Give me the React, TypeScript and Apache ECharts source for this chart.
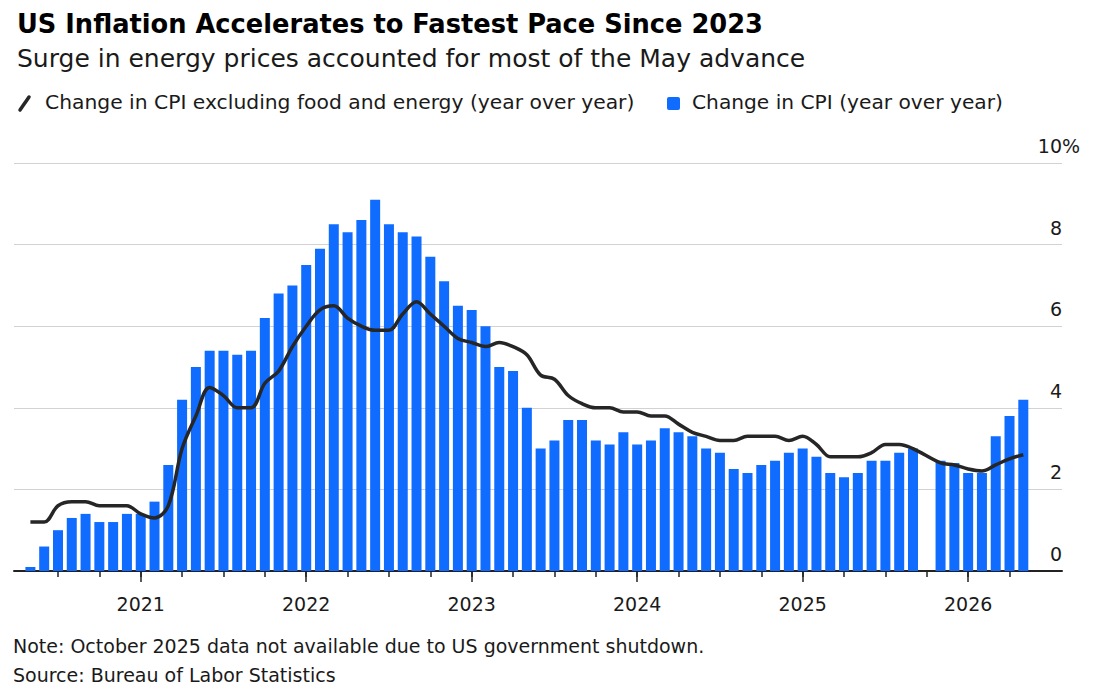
import React, { useEffect, useRef } from "react";
import * as echarts from "echarts";

// Monthly CPI readings, May 2020 – May 2026 (October 2025 missing)
const startYear = 2020;
const startMonth = 5;
const monthCount = 73;

const cpiYoY: (number | null)[] = [
  // 2020 May–Dec
  0.1, 0.6, 1.0, 1.3, 1.4, 1.2, 1.2, 1.4,
  // 2021
  1.4, 1.7, 2.6, 4.2, 5.0, 5.4, 5.4, 5.3, 5.4, 6.2, 6.8, 7.0,
  // 2022
  7.5, 7.9, 8.5, 8.3, 8.6, 9.1, 8.5, 8.3, 8.2, 7.7, 7.1, 6.5,
  // 2023
  6.4, 6.0, 5.0, 4.9, 4.0, 3.0, 3.2, 3.7, 3.7, 3.2, 3.1, 3.4,
  // 2024
  3.1, 3.2, 3.5, 3.4, 3.3, 3.0, 2.9, 2.5, 2.4, 2.6, 2.7, 2.9,
  // 2025
  3.0, 2.8, 2.4, 2.3, 2.4, 2.7, 2.7, 2.9, 3.0, null, 2.7, 2.65,
  // 2026 Jan–May
  2.4, 2.4, 3.3, 3.8, 4.2,
];

const coreYoY: (number | null)[] = [
  // 2020 May–Dec
  1.2, 1.2, 1.6, 1.7, 1.7, 1.6, 1.6, 1.6,
  // 2021
  1.4, 1.3, 1.6, 3.0, 3.8, 4.5, 4.3, 4.0, 4.0, 4.6, 4.9, 5.5,
  // 2022
  6.0, 6.4, 6.5, 6.2, 6.0, 5.9, 5.9, 6.3, 6.6, 6.3, 6.0, 5.7,
  // 2023
  5.6, 5.5, 5.6, 5.5, 5.3, 4.8, 4.7, 4.3, 4.1, 4.0, 4.0, 3.9,
  // 2024
  3.9, 3.8, 3.8, 3.6, 3.4, 3.3, 3.2, 3.2, 3.3, 3.3, 3.3, 3.2,
  // 2025
  3.3, 3.1, 2.8, 2.8, 2.8, 2.9, 3.1, 3.1, 3.0, null, 2.65, 2.6,
  // 2026 Jan–May
  2.5, 2.45, 2.6, 2.75, 2.85,
];

const yTicks = [0, 2, 4, 6, 8, 10];

const months: string[] = [];
for (let i = 0; i < monthCount; i++) {
  const m0 = startMonth - 1 + i;
  const y = startYear + Math.floor(m0 / 12);
  const m = (m0 % 12) + 1;
  months.push(`${y}-${m < 10 ? "0" + m : m}`);
}

const TITLE = "US Inflation Accelerates to Fastest Pace Since 2023";
const SUBTITLE = "Surge in energy prices accounted for most of the May advance";
const CORE_NAME = "Change in CPI excluding food and energy (year over year)";
const CPI_NAME = "Change in CPI (year over year)";
const NOTE = "Note: October 2025 data not available due to US government shutdown.";
const SOURCE = "Source: Bureau of Labor Statistics";

const FONT = "DejaVu Sans, Liberation Sans, Arial, sans-serif";
const BLUE = "#0f6cff";
const INK = "#1a1a1a";

const monthOf = (v: string) => parseInt(v.slice(5), 10);

export default function App() {
  const ref = useRef<HTMLDivElement>(null);

  useEffect(() => {
    if (!ref.current) return;
    const chart = echarts.init(ref.current, undefined, { renderer: "svg" });

    const option: any = {
      animation: false,
      backgroundColor: "#ffffff",
      textStyle: { fontFamily: FONT },
      title: {
        text: TITLE,
        subtext: SUBTITLE,
        left: 12,
        top: 6,
        itemGap: 9,
        textStyle: { fontFamily: FONT, fontSize: 25.7, fontWeight: "bold", color: "#000" },
        subtextStyle: { fontFamily: FONT, fontSize: 25, color: INK },
      },
      grid: [
        // frame grid: gridlines, baseline and y labels
        { left: 14, right: 41, top: 163, bottom: 120, outerBoundsMode: "none" },
        // data grid: monthly bands
        { left: 23.5, right: 72.8, top: 163, bottom: 120, outerBoundsMode: "none" },
      ],
      xAxis: [
        {
          type: "category",
          gridIndex: 1,
          position: "bottom",
          data: months,
          boundaryGap: true,
          axisLine: { show: false },
          axisTick: {
            show: true,
            alignWithLabel: true,
            interval: (_i: number, v: string) => [1, 4, 7, 10].includes(monthOf(v)),
            length: 6,
            lineStyle: { color: "#222", width: 1.5 },
          },
          axisLabel: {
            interval: (_i: number, v: string) => monthOf(v) === 1,
            formatter: (v: string) => v.slice(0, 4),
            fontFamily: FONT,
            fontSize: 19,
            color: INK,
            margin: 23,
          },
          splitLine: { show: false },
        },
        {
          type: "category",
          gridIndex: 1,
          position: "bottom",
          offset: 0,
          data: months,
          boundaryGap: true,
          axisLine: { show: false },
          axisTick: {
            show: true,
            alignWithLabel: true,
            interval: (_i: number, v: string) => monthOf(v) === 1,
            length: 11,
            lineStyle: { color: "#222", width: 1.5 },
          },
          axisLabel: { show: false },
          splitLine: { show: false },
        },
        {
          type: "value",
          gridIndex: 0,
          position: "bottom",
          min: 0,
          max: 1,
          axisLine: { show: true, onZero: false, lineStyle: { color: "#222", width: 2 } },
          axisTick: { show: false },
          axisLabel: { show: false },
          splitLine: { show: false },
        },
      ],
      yAxis: [
        {
          type: "value",
          gridIndex: 0,
          position: "right",
          min: yTicks[0],
          max: yTicks[yTicks.length - 1],
          interval: 2,
          axisLine: { show: false },
          axisTick: { show: false },
          splitLine: { show: true, lineStyle: { color: "#d2d2d2", width: 1.2 } },
          axisLabel: {
            inside: true,
            margin: 0,
            align: "right",
            verticalAlign: "bottom",
            lineHeight: 20,
            padding: [0, 0, 7, 0],
            fontFamily: FONT,
            fontSize: 19,
            color: INK,
          },
        },
        {
          type: "value",
          gridIndex: 1,
          min: yTicks[0],
          max: yTicks[yTicks.length - 1],
          interval: 2,
          show: false,
          splitLine: { show: false },
        },
      ],
      series: [
        {
          name: CPI_NAME,
          type: "bar",
          xAxisIndex: 0,
          yAxisIndex: 1,
          data: cpiYoY,
          barWidth: 10,
          itemStyle: { color: BLUE },
          z: 2,
        },
        {
          name: CORE_NAME,
          type: "line",
          xAxisIndex: 0,
          yAxisIndex: 1,
          data: coreYoY,
          connectNulls: true,
          smooth: 0.35,
          showSymbol: false,
          symbol: "none",
          lineStyle: { color: "#262626", width: 3.5 },
          z: 3,
        },
      ],
      graphic: [
        // legend
        {
          type: "line",
          shape: { x1: 20, y1: 110, x2: 29, y2: 97 },
          style: { stroke: "#262626", lineWidth: 3.5, lineCap: "round" },
        },
        {
          type: "text",
          left: 45,
          top: 92,
          style: { text: CORE_NAME, fontFamily: FONT, fontSize: 20.3, fill: INK },
        },
        {
          type: "rect",
          shape: { x: 667, y: 97, width: 13, height: 13, r: 2 },
          style: { fill: BLUE },
        },
        {
          type: "text",
          left: 692,
          top: 92,
          style: { text: CPI_NAME, fontFamily: FONT, fontSize: 20.2, fill: INK },
        },
        // percent sign after the top y label
        {
          type: "text",
          x: 1062,
          y: 146,
          style: {
            text: "%",
            fontFamily: FONT,
            fontSize: 19,
            fill: INK,
            align: "left",
            verticalAlign: "middle",
          },
        },
        // footnotes
        {
          type: "text",
          left: 13,
          top: 636,
          style: { text: NOTE, fontFamily: FONT, fontSize: 19, fill: INK },
        },
        {
          type: "text",
          left: 13,
          top: 665,
          style: { text: SOURCE, fontFamily: FONT, fontSize: 19, fill: INK },
        },
      ],
    };

    chart.setOption(option);
    return () => chart.dispose();
  }, []);

  return (
    <div
      ref={ref}
      style={{ position: "absolute", left: 0, top: 0, width: 1103, height: 691 }}
    />
  );
}
